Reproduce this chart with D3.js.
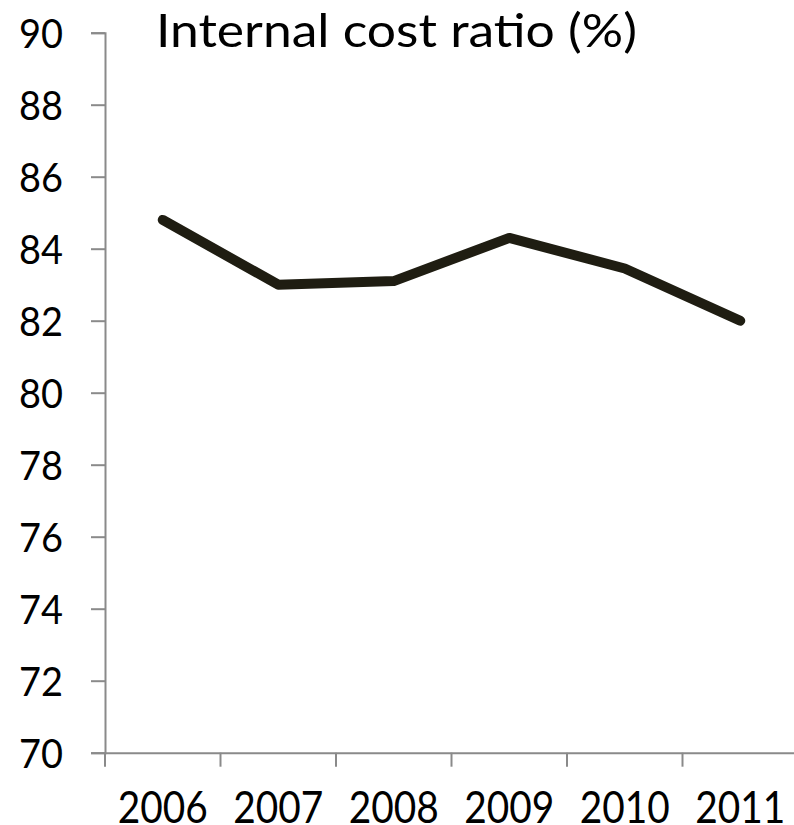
<!DOCTYPE html>
<html>
<head>
<meta charset="utf-8">
<script src="https://cdn.jsdelivr.net/npm/d3@7"></script>
<style>
  html, body { margin: 0; padding: 0; background: #fff; }
  svg { display: block; }
  text { font-family: "Lato", "Liberation Sans", sans-serif; fill: #000; }
</style>
</head>
<body>
<svg id="chart" width="794" height="825"></svg>
<script>
// Internal cost ratio by year (%)
const years = ["2006", "2007", "2008", "2009", "2010", "2011"];
const ratio = [84.8, 83.0, 83.1, 84.3, 83.45, 82.0];
const yTicks = [70, 72, 74, 76, 78, 80, 82, 84, 86, 88, 90];
const title = "Internal cost ratio (%)";

const svg = d3.select("#chart");
const axisColor = "#8a8a8a";

const x = d3.scaleBand().domain(years).range([105, 798]).padding(0);
const y = d3.scaleLinear().domain([70, 90]).range([752.7, 32.7]);

// y axis
const yAxis = svg.append("g")
  .attr("transform", "translate(105,0)")
  .call(d3.axisLeft(y).tickValues(yTicks).tickSize(14).tickPadding(28).tickFormat(d3.format("d")));
yAxis.select(".domain").attr("stroke", axisColor).attr("stroke-width", 2);
yAxis.selectAll(".tick line").attr("stroke", axisColor).attr("stroke-width", 2);
yAxis.selectAll(".tick text")
  .attr("font-size", 41)
  .attr("dy", "0.36em")
  .attr("textLength", 44)
  .attr("lengthAdjust", "spacingAndGlyphs")
  .style("font-family", "Lato, 'Liberation Sans', sans-serif")
  .attr("fill", "#000");

// x axis: labels centred in each band, tick marks at band edges
const xAxis = svg.append("g")
  .attr("transform", `translate(0,${y(70)})`)
  .call(d3.axisBottom(x).tickSize(0));
xAxis.select(".domain").attr("stroke", axisColor).attr("stroke-width", 2);
xAxis.selectAll(".tick text")
  .attr("y", 70)
  .attr("dy", 0)
  .attr("font-size", 45)
  .attr("textLength", 90)
  .attr("lengthAdjust", "spacingAndGlyphs")
  .style("font-family", "Lato, 'Liberation Sans', sans-serif")
  .attr("fill", "#000");
xAxis.selectAll(".edge")
  .data(years.map(d => x(d)).concat([x.range()[1]]))
  .join("line")
  .attr("class", "edge")
  .attr("x1", d => d).attr("x2", d => d)
  .attr("y1", 0).attr("y2", 14)
  .attr("stroke", axisColor).attr("stroke-width", 2);

// series line
const line = d3.line()
  .x((d, i) => x(years[i]) + x.bandwidth() / 2)
  .y(d => y(d));
svg.append("path")
  .datum(ratio)
  .attr("d", line)
  .attr("fill", "none")
  .attr("stroke", "#1f1d12")
  .attr("stroke-width", 10)
  .attr("stroke-linecap", "round")
  .attr("stroke-linejoin", "round");

// chart title
svg.append("text")
  .attr("x", 156)
  .attr("y", 47.3)
  .attr("font-size", 46)
  .attr("textLength", 481)
  .attr("lengthAdjust", "spacingAndGlyphs")
  .attr("fill", "#1f1d12")
  .text(title);
</script>
</body>
</html>
